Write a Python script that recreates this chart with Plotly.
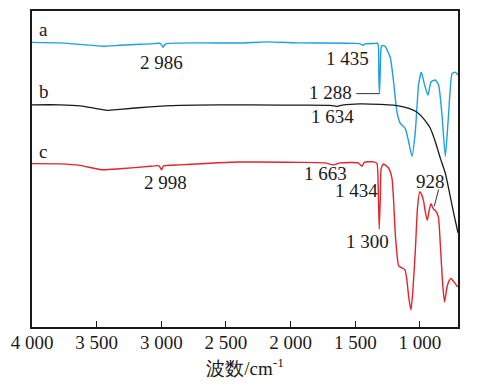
import plotly.graph_objects as go

# Curve a (blue)
wn_a = [4000, 3784, 3629, 3451, 3320, 3087, 3010, 2995, 2986, 2971, 2948, 2700, 2391, 2182, 1926,
        1501, 1462, 1440, 1425, 1338, 1330, 1322, 1318, 1313, 1308, 1302, 1295, 1282, 1270, 1230,
        1204, 1178, 1152, 1114, 1088, 1062, 1036, 1011, 990, 964, 938, 915, 882, 856, 830, 804,
        779, 752, 727, 706]
t_a = [287, 286.5, 285, 283, 284, 285.5, 286, 284, 282, 285, 286, 286.5, 286.3, 287.5, 286.5,
       286, 285.5, 284, 285.5, 286, 286.3, 284, 250, 235.3, 255, 280, 283.5, 283.7, 283, 272,
       247, 217, 205.3, 200.3, 187, 172, 197, 244, 257, 244, 233.7, 247, 249, 244, 214, 172,
       214, 255.3, 257, 254]

# Curve b (black)
wn_b = [4000, 3784, 3629, 3513, 3420, 3320, 3087, 2855, 2546, 2081, 1694, 1642, 1601, 1462, 1307,
        1207, 1129, 1052, 1013, 974, 943, 920, 882, 843, 804, 765, 735, 706]
t_b = [224, 224, 223, 220.5, 218.5, 219.5, 222, 223.5, 224, 223.7, 223.5, 222.5, 223.7, 225, 224.5,
       223.7, 222, 218.7, 215.5, 210.3, 205, 200.3, 187, 170.3, 155, 131, 112, 95]

# Curve c (red)
wn_c = [4000, 3784, 3629, 3461, 3320, 3087, 3018, 2998, 2983, 2855, 2391, 1926, 1733, 1671, 1617,
        1478, 1449, 1431, 1359, 1333, 1323, 1315, 1307, 1300, 1282, 1243, 1217, 1203, 1191, 1166,
        1152, 1127, 1114, 1101, 1087, 1070, 1056, 1036, 1019, 1002, 986, 972, 959, 943, 930,
        915, 895, 882, 858, 843, 825, 810, 791, 777, 762, 750, 735, 709]
t_c = [164.7, 164.5, 163, 158.5, 159.5, 162, 162.5, 158.5, 162.5, 163.5, 166.3, 166, 165.5, 163.5, 165.5,
       165.5, 162, 166, 166.5, 165, 140, 98.7, 130, 160, 164.3, 160.3, 150.3, 125, 94, 62,
       60.3, 58.7, 57, 47, 30, 17, 35, 77, 120.3, 136.3, 133, 127, 116, 107.5, 117,
       124.3, 118.7, 117.7, 111, 84, 44, 25.3, 40.3, 46, 49, 47.5, 45.3, 40.3]

tick_vals = [4000, 3500, 3000, 2500, 2000, 1500, 1000]
tick_text = ["4 000", "3 500", "3 000", "2 500", "2 000", "1 500", "1 000"]

FONT = "Liberation Serif"
INK = "#1a1a1a"
FS = 19

fig = go.Figure()
fig.add_trace(go.Scatter(x=wn_a, y=t_a, mode="lines", line=dict(color="#1e9ee3", width=1.4, shape="spline", smoothing=0.5)))
fig.add_trace(go.Scatter(x=wn_b, y=t_b, mode="lines", line=dict(color=INK, width=1.3, shape="spline", smoothing=0.6)))
fig.add_trace(go.Scatter(x=wn_c, y=t_c, mode="lines", line=dict(color="#e4232b", width=1.4, shape="spline", smoothing=0.5)))

labels = [
    ("a", 3964, 300, "left"), ("b", 3964, 237, "left"), ("c", 3964, 177, "left"),
    ("2 986", 2997, 267, "center"), ("2 998", 2964, 146, "center"),
    ("1 435", 1560, 271, "center"), ("1 288", 1689, 236.3, "center"),
    ("1 634", 1675, 212, "center"), ("1 663", 1733, 155, "center"),
    ("1 434", 1493, 137.7, "center"), ("1 300", 1402, 86.3, "center"),
    ("928", 920, 146.3, "center"),
]
for txt, x, y, anc in labels:
    fig.add_annotation(x=x, y=y, text=txt, showarrow=False, xanchor=anc, yanchor="middle",
                       font=dict(family=FONT, size=FS, color=INK))

# leader lines
fig.add_shape(type="line", x0=1493, x1=1313, y0=235.3, y1=235.3, line=dict(color="#333333", width=1))
fig.add_shape(type="line", x0=856, x1=889, y0=138.7, y1=122, line=dict(color="#333333", width=1))

fig.update_layout(
    width=470, height=379,
    margin=dict(l=24, r=20, t=1, b=60),
    paper_bgcolor="white", plot_bgcolor="white",
    showlegend=False,
    font=dict(family=FONT, size=FS, color=INK),
    xaxis=dict(range=[4000, 706], tickvals=tick_vals, ticktext=tick_text,
               ticks="inside", ticklen=6, tickwidth=1.3, tickcolor=INK,
               ticklabelstandoff=-3,
               showline=True, mirror=True, linecolor=INK, linewidth=1.5,
               showgrid=False, zeroline=False,
               tickfont=dict(family=FONT, size=FS, color=INK),
               title=dict(text="波数/cm<sup>-1</sup>", standoff=10,
                          font=dict(family=FONT, size=FS, color=INK))),
    yaxis=dict(range=[0, 318.6], showticklabels=False, ticks="",
               showline=True, mirror=True, linecolor=INK, linewidth=1.5,
               showgrid=False, zeroline=False),
)

fig.write_html("out.html")
